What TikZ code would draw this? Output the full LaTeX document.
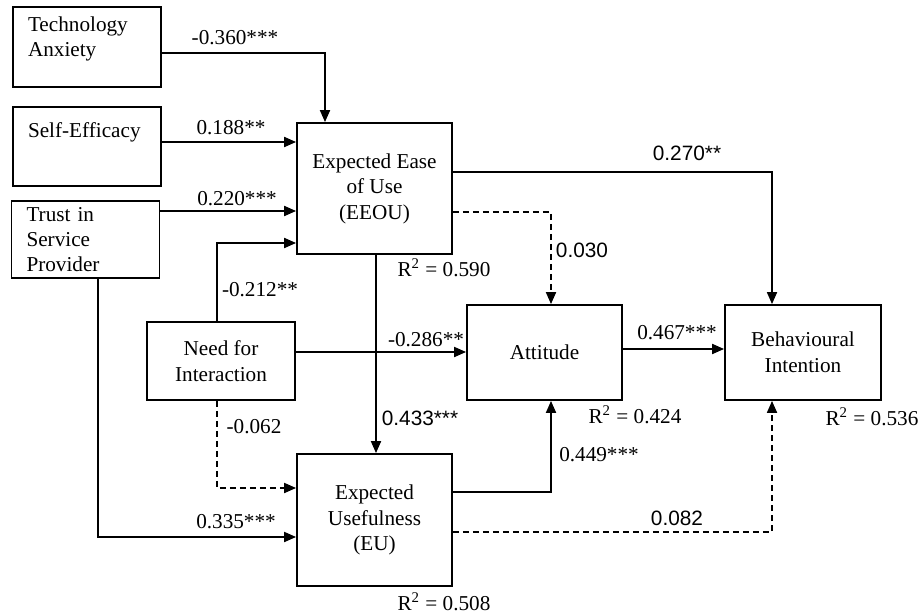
\documentclass[tikz,border=0pt]{standalone}
\usepackage{fontspec}
\setmainfont{Liberation Serif}
\newfontfamily\sanslbl{Liberation Sans}
\usetikzlibrary{arrows.meta,positioning,calc}

\begin{document}
\begin{tikzpicture}[
  x=0.5pt, y=-0.5pt,
  box/.style={draw, line width=0.9pt, minimum width=77.5pt, align=center, inner sep=2pt, font=\fontsize{10.6}{12.8}\selectfont},
  leftbox/.style={draw, line width=0.9pt, text width=59pt, inner xsep=7.5pt, inner ysep=2pt, align=left, font=\fontsize{10.6}{12.6}\selectfont},
  arr/.style={-{Triangle[length=6pt,width=5pt]}, line width=0.9pt},
  dsh/.style={arr, dash pattern=on 3pt off 2pt},
  coef/.style={inner sep=1pt, font=\fontsize{10.6}{12.8}\selectfont},
  coefsans/.style={inner sep=1pt, font=\sanslbl\fontsize{10.4}{12.8}\selectfont}
]
  \useasboundingbox (0,0) rectangle (920,615);

  \node[leftbox, minimum height=40pt] (anxiety) at (87,47) {Technology\\Anxiety\\[-6pt]\strut};
  \node[leftbox, minimum height=39.5pt] (efficacy) at (87,146.5) {Self-Efficacy\\\strut};
  \node[leftbox, minimum height=38.5pt] (trust) at (85.5,239.5) {Trust in\\Service\\Provider};
  \node[box, minimum width=74pt, minimum height=39pt] (need) at (221,361) {Need for\\Interaction};
  \node[box, minimum height=65.5pt] (eeou) at (374.5,188.5) {Expected Ease\\of Use\\(EEOU)};
  \node[box, minimum height=66pt] (eu) at (374.5,520) {Expected\\Usefulness\\(EU)};
  \node[box, minimum height=47.5pt] (attitude) at (544.5,352.5) {Attitude};
  \node[box, minimum width=78pt, minimum height=47.5pt] (intention) at (803,352.5) {Behavioural\\Intention};

  \draw[arr] ([yshift=-3pt]anxiety.east) -| ([xshift=-24.75pt]eeou.north);
  \draw[arr] ([yshift=2.25pt]efficacy.east) -- ([yshift=2.25pt]efficacy.east -| eeou.west);
  \draw[arr] ([yshift=14.25pt]trust.east) -- ([yshift=14.25pt]trust.east -| eeou.west);
  \draw[arr] ([xshift=-2pt]need.north) |- ([yshift=-27.25pt]eeou.west);
  \draw[arr] ([yshift=4.5pt]need.east) -- ([yshift=4.5pt]need.east -| attitude.west);
  \draw[arr] ([xshift=0.75pt]eeou.south) -- ([xshift=0.75pt]eu.north);
  \draw[dsh] ([xshift=-2pt]need.south) |- ([yshift=16pt]eu.west);
  \draw[arr] ([xshift=6.25pt]trust.south) |- ([yshift=-8.5pt]eu.west);
  \draw[arr] ([yshift=8.25pt]eeou.east) -| ([xshift=-15.5pt]intention.north);
  \draw[dsh] ([yshift=-11.75pt]eeou.east) -| ([xshift=3.25pt]attitude.north);
  \draw[arr] ([yshift=1.75pt]attitude.east) -- ([yshift=1.75pt]attitude.east -| intention.west);
  \draw[arr] ([yshift=14pt]eu.east) -| ([xshift=3.25pt]attitude.south);
  \draw[dsh] ([yshift=-6pt]eu.east) -| ([xshift=-15.5pt]intention.south);

  \node[coef] (c1) at (235,38) {-0.360***};
  \node[coef] (c2) at (231,128) {0.188**};
  \node[coef] (c3) at (237,199) {0.220***};
  \node[coef] (c4) at (260,290) {-0.212**};
  \node[coefsans] (c5) at (687,153) {0.270**};
  \node[coefsans] (c6) at (582,250) {0.030};
  \node[coef] (c7) at (426,340) {-0.286**};
  \node[coef] (c8) at (677,333) {0.467***};
  \node[coef] (c9) at (254,427) {-0.062};
  \node[coefsans] (c10) at (420,418) {0.433***};
  \node[coef] (c11) at (599,455) {0.449***};
  \node[coefsans] (c12) at (677,518) {0.082};
  \node[coef] (c13) at (236,522) {0.335***};

  \node[coef] (r1) at (444,268) {R\textsuperscript{2} = 0.590};
  \node[coef] (r2) at (635,415) {R\textsuperscript{2} = 0.424};
  \node[coef] (r3) at (872,417) {R\textsuperscript{2} = 0.536};
  \node[coef] (r4) at (444,602) {R\textsuperscript{2} = 0.508};
\end{tikzpicture}
\end{document}
